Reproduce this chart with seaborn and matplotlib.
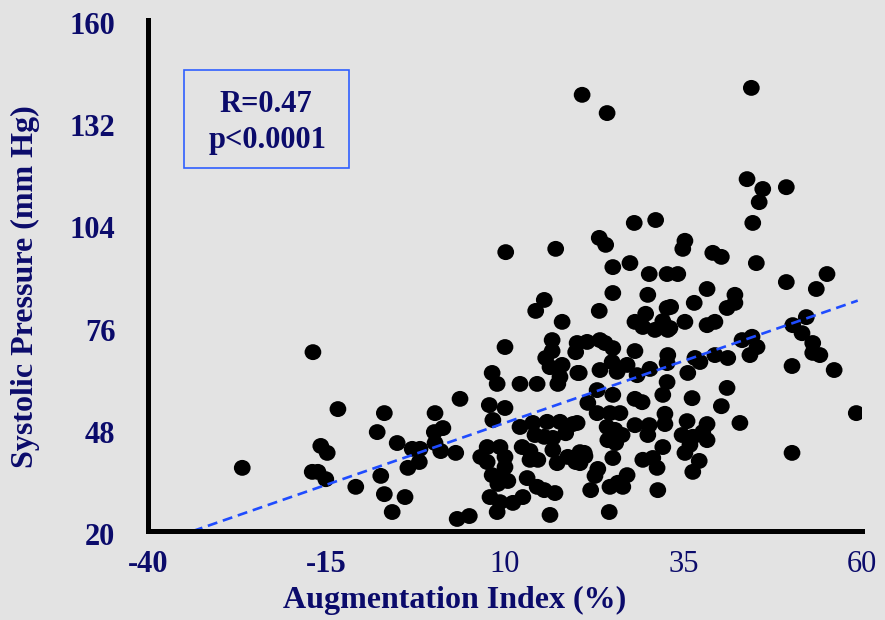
import numpy as np
import pandas as pd
import matplotlib
matplotlib.use("Agg")
import matplotlib.pyplot as plt
import matplotlib.transforms as mtransforms
from matplotlib.path import Path
from matplotlib.patches import Rectangle
import seaborn as sns

# Augmentation index (%) and systolic pressure (mm Hg) for each subject
aug_index = [
    -26.8, -16.9, -17.0, -16.2, -15.8, -14.9, -15.1, -13.4, -10.9, -7.9,
    -7.4, -6.9, -6.9, -5.8, -5.1, -4.0, -3.6, -3.0, -1.9, -2.0,
    0.1, 0.2, 0.2, 1.0, 1.3, 3.1, 3.3, 5.0, 3.7, 8.2,
    8.9, 10.0, 10.1, 7.8, 10.0, 8.3, 7.5, 9.3, 6.6, 7.5,
    10.0, 10.0, 8.2, 9.7, 10.4, 9.0, 7.9, 9.3, 11.1, 8.9,
    12.1, 14.5, 17.4, 12.1, 13.9, 15.9, 17.7, 19.5, 14.2, 15.5,
    16.7, 18.5, 12.4, 13.5, 13.5, 14.6, 16.7, 17.3, 18.8, 19.9,
    21.1, 13.1, 14.5, 15.5, 17.0, 12.5, 16.3, 14.3, 15.5, 17.1,
    18.0, 16.6, 16.6, 15.7, 16.3, 18.0, 17.7, 20.1, 19.9, 20.2,
    20.8, 24.3, 23.2, 24.1, 25.1, 27.5, 30.2, 32.7, 25.1, 30.0,
    23.2, 32.7, 29.7, 28.2, 29.3, 31.0, 32.1, 32.8, 21.5, 23.3,
    24.0, 25.1, 28.2, 32.8, 32.7, 20.4, 23.3, 25.0, 25.7, 27.1,
    28.5, 30.3, 32.7, 22.9, 21.6, 25.1, 28.2, 29.2, 32.1, 22.9,
    24.7, 26.1, 24.3, 25.4, 26.4, 24.4, 25.5, 28.2, 30.2, 32.4,
    20.1, 30.0, 32.1, 20.5, 21.2, 20.5, 25.1, 23.0, 22.6, 29.3,
    30.7, 31.3, 27.1, 25.8, 24.7, 26.5, 22.0, 31.4, 24.6, 28.1,
    31.1, 44.5, 43.9, 46.1, 45.6, 49.4, 44.7, 35.2, 34.9, 39.1,
    40.3, 45.2, 34.2, 38.3, 42.2, 42.2, 41.1, 49.4, 55.1, 53.6,
    33.2, 36.5, 35.2, 38.3, 39.4, 33.1, 36.6, 37.3, 39.4, 41.2,
    43.2, 44.6, 45.3, 44.3, 50.3, 52.2, 51.6, 53.1, 53.1, 54.1,
    35.6, 36.2, 41.1, 40.3, 50.2, 56.1, 32.4, 35.5, 38.3, 42.9,
    34.8, 36.3, 37.7, 38.3, 35.9, 35.2, 37.2, 36.3, 50.2, 59.2,
]
systolic = [
    37.3, 69.0, 36.2, 36.2, 43.3, 41.4, 34.2, 53.4, 32.1, 47.1,
    35.1, 52.3, 30.1, 25.2, 44.1, 29.3, 37.3, 42.5, 42.5, 38.9,
    47.1, 52.3, 44.1, 41.9, 48.2, 41.4, 23.3, 24.1, 56.2, 63.3,
    60.3, 70.4, 96.4, 54.5, 53.7, 50.4, 43.0, 43.0, 40.3, 38.9,
    40.3, 37.5, 35.3, 34.8, 33.7, 32.9, 29.3, 27.9, 27.7, 25.2,
    60.3, 60.3, 60.3, 48.5, 49.6, 49.9, 49.9, 49.3, 46.3, 45.8,
    45.5, 46.8, 43.0, 41.9, 39.5, 39.5, 42.2, 38.6, 40.3, 38.9,
    41.4, 34.5, 32.1, 31.2, 30.4, 29.3, 24.4, 80.3, 83.3, 97.3,
    77.3, 72.3, 69.3, 67.4, 64.9, 65.5, 62.2, 71.5, 69.0, 63.3,
    139.5, 134.5, 100.3, 98.4, 92.3, 93.4, 90.4, 90.4, 85.2, 84.7,
    80.3, 81.1, 79.5, 77.3, 75.9, 75.1, 77.5, 75.1, 71.8, 72.3,
    71.5, 70.1, 69.3, 68.2, 66.0, 63.3, 64.1, 66.3, 63.6, 65.5,
    62.7, 64.4, 60.8, 58.6, 55.1, 57.3, 56.2, 55.3, 57.3, 52.3,
    52.3, 52.3, 48.5, 47.7, 46.3, 44.9, 44.1, 49.0, 49.0, 49.3,
    49.6, 46.3, 43.0, 41.6, 40.5, 38.6, 40.0, 37.0, 35.1, 39.5,
    40.0, 37.3, 35.3, 33.2, 32.1, 32.1, 31.2, 31.2, 25.2, 104.4,
    105.2, 141.4, 116.4, 113.7, 110.1, 114.2, 104.4, 99.5, 97.3, 96.2,
    95.1, 93.4, 90.4, 86.3, 84.7, 82.5, 81.1, 88.2, 90.4, 86.3,
    81.4, 82.5, 77.3, 76.4, 77.3, 75.6, 67.4, 66.3, 68.2, 67.4,
    72.3, 73.2, 70.4, 68.2, 76.4, 78.6, 74.2, 71.5, 68.8, 68.2,
    63.3, 56.4, 59.2, 54.2, 65.2, 64.1, 52.1, 50.1, 49.3, 49.6,
    46.3, 45.8, 47.1, 44.9, 43.6, 41.4, 39.2, 36.2, 41.4, 52.3,
]

# Least-squares fit and its statistics
fit_slope = 0.678
fit_intercept = 42.85
fit_x_end = 59.4
stats_lines = ["R=0.47", "p<0.0001"]

x_ticks = [-40, -15, 10, 35, 60]
y_ticks = [20, 48, 76, 104, 132, 160]
x_label = "Augmentation Index (%)"
y_label = "Systolic Pressure (mm Hg)"

df = pd.DataFrame({"aug": aug_index, "sbp": systolic})

bg = "#e3e3e3"
navy = "#0b0b6b"
tick_blue = "#1f4cff"
line_blue = "#1f4cff"
serif = ["Liberation Serif", "DejaVu Serif"]

sns.set_style("white")
plt.rcParams["font.family"] = serif

fig = plt.figure(figsize=(8.85, 6.2), dpi=100, facecolor=bg)
ax = fig.add_axes([148 / 885, 89 / 620, 714 / 885, 511 / 620])
ax.set_facecolor(bg)

# slightly flattened round marker
circ = Path.unit_circle()
dot = Path(circ.vertices * np.array([1.0, 0.95]), circ.codes)

sns.scatterplot(data=df, x="aug", y="sbp", ax=ax, marker=dot, s=145,
                color="black", edgecolor="none", linewidth=0, zorder=3,
                legend=False)

fx = np.array([-40.0, fit_x_end])
ax.plot(fx, fit_intercept + fit_slope * fx, color=line_blue, lw=1.9,
        linestyle=(0, (3.8, 2.2)), zorder=4, clip_on=True)

ax.set_xlim(-40, 60)
ax.set_ylim(20, 160)
ax.set_xticks(x_ticks)
ax.set_yticks(y_ticks)
ax.set_xticklabels([str(v) for v in x_ticks])
ax.set_yticklabels([str(v) for v in y_ticks])

for side in ("top", "right"):
    ax.spines[side].set_visible(False)
for side in ("left", "bottom"):
    ax.spines[side].set_color("black")
    ax.spines[side].set_linewidth(3.6)
    ax.spines[side].set_zorder(5)

ax.tick_params(axis="both", direction="out", length=7.5, width=3.0,
               color=tick_blue, labelcolor=navy, labelsize=22)
ax.tick_params(axis="y", pad=16)
ax.tick_params(axis="x", pad=6)

for i, lab in enumerate(ax.get_xticklabels()):
    lab.set_fontweight("bold" if x_ticks[i] < 0 else "normal")
for lab in ax.get_yticklabels():
    lab.set_fontweight("bold")
    lab.set_transform(lab.get_transform() +
                      mtransforms.ScaledTranslation(0, -3 / 100, fig.dpi_scale_trans))

ax.set_xlabel(x_label, fontsize=23, fontweight="bold", color=navy)
ax.set_ylabel(y_label, fontsize=23, fontweight="bold", color=navy)
ax.xaxis.label.set_va("center")
ax.yaxis.label.set_va("center")
ax.xaxis.set_label_coords((455 - 148) / 714, (531 - 600) / 511)
ax.yaxis.set_label_coords((25 - 148) / 714, (531 - 287) / 511)

# statistics box
ax.add_patch(Rectangle((0.0504, 0.710), 0.2311, 0.192, transform=ax.transAxes,
                       fill=False, edgecolor="#2f5fff", linewidth=1.2, zorder=6))
ax.text(0.165, 0.820, stats_lines[0], transform=ax.transAxes, ha="center",
        va="baseline", fontsize=22, fontweight="bold", color=navy, zorder=7)
ax.text(0.167, 0.7495, stats_lines[1], transform=ax.transAxes, ha="center",
        va="baseline", fontsize=22, fontweight="bold", color=navy, zorder=7)

fig.savefig("out.png", dpi=100, facecolor=bg)
